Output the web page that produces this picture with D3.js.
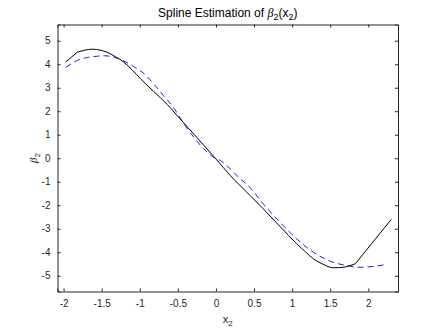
<!DOCTYPE html>
<html>
<head>
<meta charset="utf-8">
<script src="https://cdn.jsdelivr.net/npm/d3@7"></script>
<style>
  body { margin: 0; background: #fff; }
  svg { font-family: "Liberation Sans", Arial, sans-serif; }
</style>
</head>
<body>
<div id="chart"></div>
<script>
// spline fit (black, solid)
const splineX = [-1.97, -1.82, -1.72, -1.62, -1.52, -1.43, -1.32, -1.21, -1.10, -0.99, -0.82, -0.64, -0.51, -0.25, 0.0, 0.19, 0.45, 0.62, 0.84, 1.06, 1.18, 1.28, 1.40, 1.54, 1.67, 1.75, 1.83, 2.30];
const splineY = [4.10, 4.51, 4.60, 4.64, 4.60, 4.51, 4.32, 4.09, 3.76, 3.38, 2.85, 2.29, 1.82, 0.88, -0.03, -0.74, -1.59, -2.15, -2.90, -3.64, -4.00, -4.28, -4.50, -4.66, -4.64, -4.58, -4.49, -2.61];
// knots where the fitted curve bends sharply
const splineKnots = [-1.82, 1.83];

// true function (blue, dashed)
const trueX = [-1.97, -1.82, -1.70, -1.56, -1.46, -1.38, -1.21, -1.08, -0.94, -0.80, -0.69, -0.56, -0.42, -0.29, -0.16, -0.05, 0.06, 0.21, 0.32, 0.41, 0.62, 0.84, 1.06, 1.28, 1.50, 1.72, 1.89, 2.07, 2.24];
const trueY = [3.87, 4.16, 4.28, 4.34, 4.36, 4.33, 4.14, 3.90, 3.59, 3.10, 2.67, 2.17, 1.46, 0.89, 0.40, 0.08, -0.10, -0.52, -0.88, -1.12, -1.94, -2.72, -3.43, -4.00, -4.38, -4.57, -4.64, -4.60, -4.52];

const xTicks = [-2, -1.5, -1, -0.5, 0, 0.5, 1, 1.5, 2];
const yTicks = [-5, -4, -3, -2, -1, 0, 1, 2, 3, 4, 5];

const width = 440, height = 333;
const margin = { top: 24.5, right: 42, bottom: 41.5, left: 57.5 };
const axisColor = "#262626";

const svg = d3.select("#chart").append("svg")
  .attr("width", width)
  .attr("height", height);

const x = d3.scaleLinear().domain([-2.08, 2.39]).range([margin.left, width - margin.right]);
const y = d3.scaleLinear().domain([-5.67, 5.69]).range([height - margin.bottom, margin.top]);

const line = d3.line().x((d) => x(d[0])).y((d) => y(d[1])).curve(d3.curveMonotoneX);

svg.append("path")
  .datum(trueX.map((v, i) => [v, trueY[i]]))
  .attr("d", line)
  .attr("fill", "none")
  .attr("stroke", "#1a1aff")
  .attr("stroke-width", 1)
  .attr("stroke-dasharray", "6,4");

//split the spline at its knots so the bends stay sharp
const splinePts = splineX.map((v, i) => [v, splineY[i]]);
const cuts = [splineX[0], ...splineKnots, splineX[splineX.length - 1]];
for (let k = 0; k < cuts.length - 1; k++) {
  const seg = splinePts.filter((d) => d[0] >= cuts[k] && d[0] <= cuts[k + 1]);
  svg.append("path")
    .datum(seg)
    .attr("d", line)
    .attr("fill", "none")
    .attr("stroke", "#000")
    .attr("stroke-width", 1);
}

//axes, ticks inside like matlab with box on
const tickLen = 3;
const fmt = (d) => d3.format("~g")(d).replace("\u2212", "-");
const xb = y.range()[0], xt = y.range()[1];
const yl = x.range()[0], yr = x.range()[1];

const axes = [
  [d3.axisBottom(x).tickValues(xTicks).tickSize(-tickLen).tickPadding(8).tickFormat(fmt), `translate(0,${xb})`],
  [d3.axisTop(x).tickValues(xTicks).tickSize(-tickLen).tickFormat(""), `translate(0,${xt})`],
  [d3.axisLeft(y).tickValues(yTicks).tickSize(-tickLen).tickPadding(7).tickFormat(fmt), `translate(${yl},0)`],
  [d3.axisRight(y).tickValues(yTicks).tickSize(-tickLen).tickFormat(""), `translate(${yr},0)`],
];
axes.forEach(([ax, t]) => {
  const g = svg.append("g").attr("transform", t).call(ax);
  g.select(".domain").attr("stroke", axisColor).attr("stroke-width", 1);
  g.selectAll(".tick line").attr("stroke", axisColor);
  g.selectAll(".tick text").attr("fill", axisColor).attr("font-size", 10)
    .attr("font-family", "Liberation Sans, Arial, sans-serif");
});

//title
const title = svg.append("text")
  .attr("x", (yl + yr) / 2)
  .attr("y", 17)
  .attr("text-anchor", "middle")
  .attr("font-size", 12)
  .attr("fill", "#000");
title.append("tspan").text("Spline Estimation of ");
title.append("tspan").attr("font-style", "italic").attr("font-family", "Liberation Serif, serif").text("β");
title.append("tspan").attr("font-size", 9).attr("dy", 3).text("2");
title.append("tspan").attr("dy", -3).text("(x");
title.append("tspan").attr("font-size", 9).attr("dy", 3).text("2");
title.append("tspan").attr("dy", -3).text(")");

//x label
const xl = svg.append("text")
  .attr("x", (yl + yr) / 2)
  .attr("y", 323)
  .attr("text-anchor", "middle")
  .attr("font-size", 11)
  .attr("fill", axisColor);
xl.append("tspan").text("x");
xl.append("tspan").attr("font-size", 8).attr("dy", 3).text("2");

//y label
const ylab = svg.append("text")
  .attr("transform", `translate(37,${(xb + xt) / 2}) rotate(-90)`)
  .attr("text-anchor", "middle")
  .attr("font-size", 11)
  .attr("fill", axisColor);
ylab.append("tspan").attr("font-style", "italic").attr("font-family", "Liberation Serif, serif").text("β");
ylab.append("tspan").attr("font-size", 8).attr("dy", 3).text("2");
</script>
</body>
</html>
